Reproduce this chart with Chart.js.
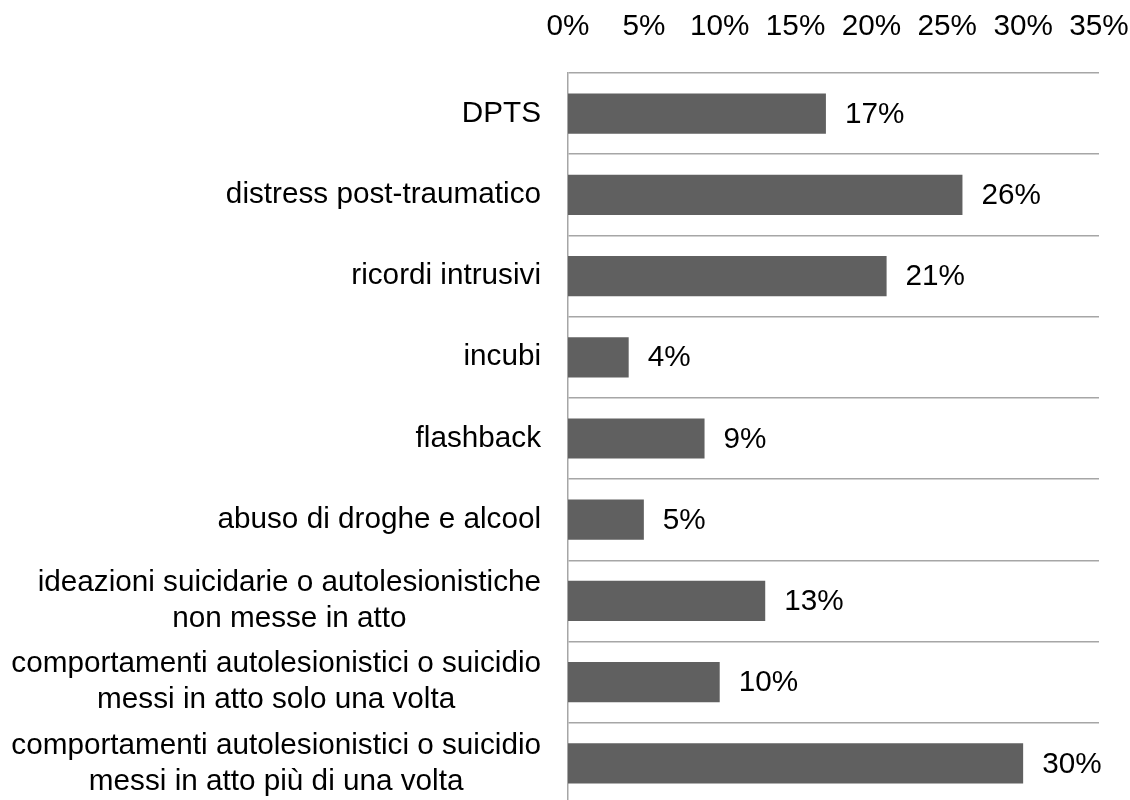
<!DOCTYPE html>
<html>
<head>
<meta charset="utf-8">
<style>
  html, body { margin: 0; padding: 0; background: #ffffff; overflow: hidden; }
  #wrap { width: 1130px; height: 800px; overflow: hidden; }
  canvas { display: block; }
</style>
<script src="https://cdn.jsdelivr.net/npm/chart.js@4/dist/chart.umd.min.js"></script>
</head>
<body>
<div id="wrap"><canvas id="c" width="1130" height="804"></canvas></div>
<script>
const categories = [
  ["DPTS"],
  ["distress post-traumatico"],
  ["ricordi intrusivi"],
  ["incubi"],
  ["flashback"],
  ["abuso di droghe e alcool"],
  ["ideazioni suicidarie o autolesionistiche", "non messe in atto"],
  ["comportamenti autolesionistici o suicidio", "messi in atto solo una volta"],
  ["comportamenti autolesionistici o suicidio", "messi in atto più di una volta"]
];
const values = [17, 26, 21, 4, 9, 5, 13, 10, 30];
const tickValues = [0, 5, 10, 15, 20, 25, 30, 35];

const FONT = '"Liberation Sans", Arial, sans-serif';
const FONT_SIZE = 29.7;
const GRID = '#a6a6a6';

const yLabelsPlugin = {
  id: 'yLabels',
  afterDraw(chart) {
    const ctx = chart.ctx;
    const ys = chart.scales.y;
    const right = chart.chartArea.left - 27;
    const lh = 36;
    ctx.save();
    ctx.font = FONT_SIZE + 'px ' + FONT;
    ctx.fillStyle = '#000000';
    ctx.textBaseline = 'middle';
    ctx.textAlign = 'center';
    categories.forEach((lines, i) => {
      const yc = ys.getPixelForTick(i);
      const w = Math.max(...lines.map(l => ctx.measureText(l).width));
      const cx = right - w / 2;
      lines.forEach((l, j) => {
        ctx.fillText(l, cx, yc + (j - (lines.length - 1) / 2) * lh);
      });
    });
    ctx.restore();
  }
};

const valueLabelsPlugin = {
  id: 'valueLabels',
  afterDatasetsDraw(chart) {
    const ctx = chart.ctx;
    const meta = chart.getDatasetMeta(0);
    ctx.save();
    ctx.font = FONT_SIZE + 'px ' + FONT;
    ctx.fillStyle = '#000000';
    ctx.textBaseline = 'middle';
    ctx.textAlign = 'left';
    meta.data.forEach((bar, i) => {
      ctx.fillText(values[i] + '%', bar.x + 19, bar.y + 1);
    });
    ctx.restore();
  }
};

new Chart(document.getElementById('c'), {
  type: 'bar',
  data: {
    labels: categories,
    datasets: [{
      data: values,
      backgroundColor: '#606060',
      borderWidth: 0,
      categoryPercentage: 1.0,
      barPercentage: 0.495
    }]
  },
  options: {
    indexAxis: 'y',
    responsive: false,
    animation: false,
    devicePixelRatio: 1,
    layout: { padding: { top: 0, right: 0, bottom: 0, left: 0 } },
    plugins: { legend: { display: false }, tooltip: { enabled: false } },
    scales: {
      x: {
        type: 'linear',
        position: 'top',
        min: 0,
        max: 35,
        afterBuildTicks(scale) {
          scale.ticks = tickValues.map(v => ({ value: v }));
        },
        ticks: {
          callback: v => v + '%',
          color: '#000000',
          font: { family: FONT, size: FONT_SIZE },
          padding: 28,
          maxRotation: 0,
          autoSkip: false
        },
        grid: { display: false, drawTicks: false },
        border: { display: false },
        afterFit(scale) {
          scale.height = 73;
          scale.paddingLeft = 0;
          scale.paddingRight = 31;
        }
      },
      y: {
        type: 'category',
        offset: true,
        ticks: { display: false },
        grid: { display: true, offset: true, color: GRID, lineWidth: 1.5, drawTicks: false },
        border: { display: true, color: GRID, width: 1.5 },
        afterFit(scale) { scale.width = 568; }
      }
    }
  },
  plugins: [yLabelsPlugin, valueLabelsPlugin]
});
</script>
</body>
</html>
